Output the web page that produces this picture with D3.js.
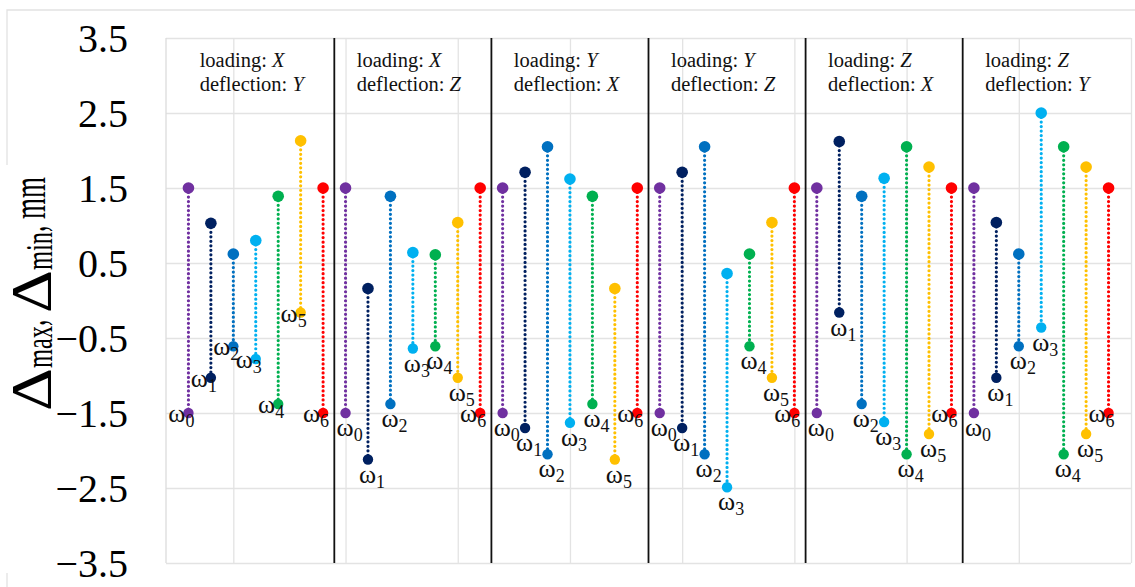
<!DOCTYPE html>
<html>
<head>
<meta charset="utf-8">
<script src="https://cdn.jsdelivr.net/npm/d3@7"></script>
<style>
  body { margin: 0; background: #fff; }
  svg text { font-family: "Liberation Serif", "Times New Roman", serif; }
</style>
</head>
<body>
<div id="chart"></div>
<script>
// stem chart: max/min deflection per mode, six loading/deflection panels

const omegaIdx = ["0", "1", "2", "3", "4", "5", "6"];
const omegaColors = ["#7030A0", "#002060", "#0070C0", "#00B0F0", "#00B050", "#FFC000", "#FF0000"];
const loadingAxes = ["X", "X", "Y", "Y", "Z", "Z"];
const deflectionAxes = ["Y", "Z", "X", "Z", "X", "Y"];

const maxValues = [
  [1.5, 1.03, 0.62, 0.80, 1.39, 2.13, 1.5],
  [1.5, 0.16, 1.39, 0.64, 0.61, 1.04, 1.5],
  [1.5, 1.71, 2.05, 1.62, 1.39, 0.16, 1.5],
  [1.5, 1.71, 2.05, 0.36, 0.62, 1.04, 1.5],
  [1.5, 2.12, 1.39, 1.63, 2.05, 1.78, 1.5],
  [1.5, 1.04, 0.62, 2.50, 2.05, 1.78, 1.5]
];
const minValues = [
  [-1.5, -1.03, -0.61, -0.78, -1.38, -0.16, -1.5],
  [-1.5, -2.12, -1.38, -0.64, -0.61, -1.03, -1.5],
  [-1.5, -1.70, -2.05, -1.63, -1.38, -2.12, -1.5],
  [-1.5, -1.70, -2.05, -2.49, -0.61, -1.03, -1.5],
  [-1.5, -0.16, -1.38, -1.62, -2.05, -1.78, -1.5],
  [-1.5, -1.03, -0.61, -0.36, -2.05, -1.78, -1.5]
];
const yTicks = [3.5, 2.5, 1.5, 0.5, -0.5, -1.5, -2.5, -3.5];
const xGrid = [2, 7, 12, 17, 22, 27, 32, 37, 42];

const W = 1135, H = 587;
const margin = { top: 38, right: 4, bottom: 24, left: 166 },
      width = W - margin.left - margin.right,
      height = H - margin.top - margin.bottom;

const svg = d3.select("#chart").append("svg")
  .attr("width", W).attr("height", H);

// outer light frame (broken where the axis title sits)
svg.append("path")
  .attr("d", "M1140,10H7V165M7,573V590")
  .attr("fill", "none").attr("stroke", "#e2e2e2").attr("stroke-width", 1.3);

const g = svg.append("g").attr("transform", `translate(${margin.left},${margin.top})`);

const x = d3.scaleLinear().domain([-1, 42]).range([0, width]);
const y = d3.scaleLinear().domain([-3.5, 3.5]).range([height, 0]);

// --- grid + axes ---
const yAxis = g.append("g")
  .call(d3.axisLeft(y).tickValues(yTicks).tickSize(-width).tickPadding(38)
    .tickFormat(d3.format(".1f")));
yAxis.select(".domain").remove();
yAxis.selectAll("line").attr("stroke", "#e3e3e3").attr("stroke-width", 1.3);
yAxis.selectAll("text")
  .attr("font-size", 40).attr("fill", "#000")
  .attr("dy", "0.33em");

const xAxis = g.append("g")
  .attr("transform", `translate(0,${height})`)
  .call(d3.axisBottom(x).tickValues(xGrid).tickSize(-height).tickFormat(() => ""));
xAxis.select(".domain").remove();
xAxis.selectAll("line").attr("stroke", "#e3e3e3").attr("stroke-width", 1.3);

g.append("line")
  .attr("x1", x(-1)).attr("x2", x(-1)).attr("y1", 0).attr("y2", height)
  .attr("stroke", "#dcdcdc").attr("stroke-width", 1.3);

// panel separators
g.selectAll(".sep")
  .data(d3.range(1, 6))
  .enter().append("line")
    .attr("x1", d => x(d * 7 - 0.5)).attr("x2", d => x(d * 7 - 0.5))
    .attr("y1", 0).attr("y2", height)
    .attr("stroke", "#111").attr("stroke-width", 1.8);

// --- data points ---
const points = [];
maxValues.forEach((arr, p) => {
  arr.forEach((v, k) => {
    points.push({ panel: p, k: k, i: p * 7 + k, max: v, min: minValues[p][k] });
  });
});

g.selectAll(".stem")
  .data(points)
  .enter().append("line")
    .attr("x1", d => x(d.i)).attr("x2", d => x(d.i))
    .attr("y1", d => y(d.max)).attr("y2", d => y(d.min))
    .attr("stroke", d => omegaColors[d.k])
    .attr("stroke-width", 3.2)
    .attr("stroke-linecap", "round")
    .attr("stroke-dasharray", "0.01 4.5");

g.selectAll(".dmax")
  .data(points)
  .enter().append("circle")
    .attr("cx", d => x(d.i)).attr("cy", d => y(d.max)).attr("r", 5.8)
    .attr("fill", d => omegaColors[d.k]);

g.selectAll(".dmin")
  .data(points)
  .enter().append("circle")
    .attr("cx", d => x(d.i)).attr("cy", d => y(d.min)).attr("r", 5.2)
    .attr("fill", d => omegaColors[d.k]);

// omega labels: first panel and last mode sit left of the dot, others below
const isLeft = d => d.panel === 0 || d.k === 6;
const lbl = g.selectAll(".lbl")
  .data(points)
  .enter().append("text")
    .attr("font-size", 26).attr("fill", "#111")
    .attr("text-anchor", d => isLeft(d) ? "end" : "start")
    .attr("x", d => isLeft(d) ? x(d.i) + 6 : x(d.i) - 9)
    .attr("y", d => isLeft(d) ? y(d.min) + 9 : y(d.min) + 23);
lbl.append("tspan").text("ω");
lbl.append("tspan").attr("font-size", 18).attr("dy", 5).text(d => omegaIdx[d.k]);

// panel headers
const head = g.selectAll(".head")
  .data(loadingAxes)
  .enter().append("g")
    .attr("transform", (d, p) => `translate(${x(p * 7 + 0.5)},0)`);
const t1 = head.append("text").attr("y", 29).attr("font-size", 20.5).attr("fill", "#111");
t1.append("tspan").text("loading: ");
t1.append("tspan").attr("font-style", "italic").text(d => d);
const t2 = head.append("text").attr("y", 53).attr("font-size", 20.5).attr("fill", "#111");
t2.append("tspan").text("deflection: ");
t2.append("tspan").attr("font-style", "italic").text((d, p) => deflectionAxes[p]);

// y axis title
const yt = svg.append("text")
  .attr("transform", "translate(45,411) rotate(-90)")
  .attr("fill", "#000").attr("font-size", 48);
yt.append("tspan").attr("font-size", 56).attr("dy", 6).attr("textLength", 43).attr("lengthAdjust", "spacingAndGlyphs").text("Δ");
yt.append("tspan").attr("font-size", 38).attr("dy", 1).attr("textLength", 42).attr("lengthAdjust", "spacingAndGlyphs").text("max");
yt.append("tspan").attr("dy", -7).attr("textLength", 13).attr("lengthAdjust", "spacingAndGlyphs").text(", ");
yt.append("tspan").attr("font-size", 56).attr("dy", 6).attr("textLength", 43).attr("lengthAdjust", "spacingAndGlyphs").text("Δ");
yt.append("tspan").attr("font-size", 38).attr("dy", 1).attr("textLength", 38).attr("lengthAdjust", "spacingAndGlyphs").text("min");
yt.append("tspan").attr("dy", -7).attr("textLength", 13).attr("lengthAdjust", "spacingAndGlyphs").text(", ");
yt.append("tspan").attr("textLength", 42).attr("lengthAdjust", "spacingAndGlyphs").text("mm");
</script>
</body>
</html>
